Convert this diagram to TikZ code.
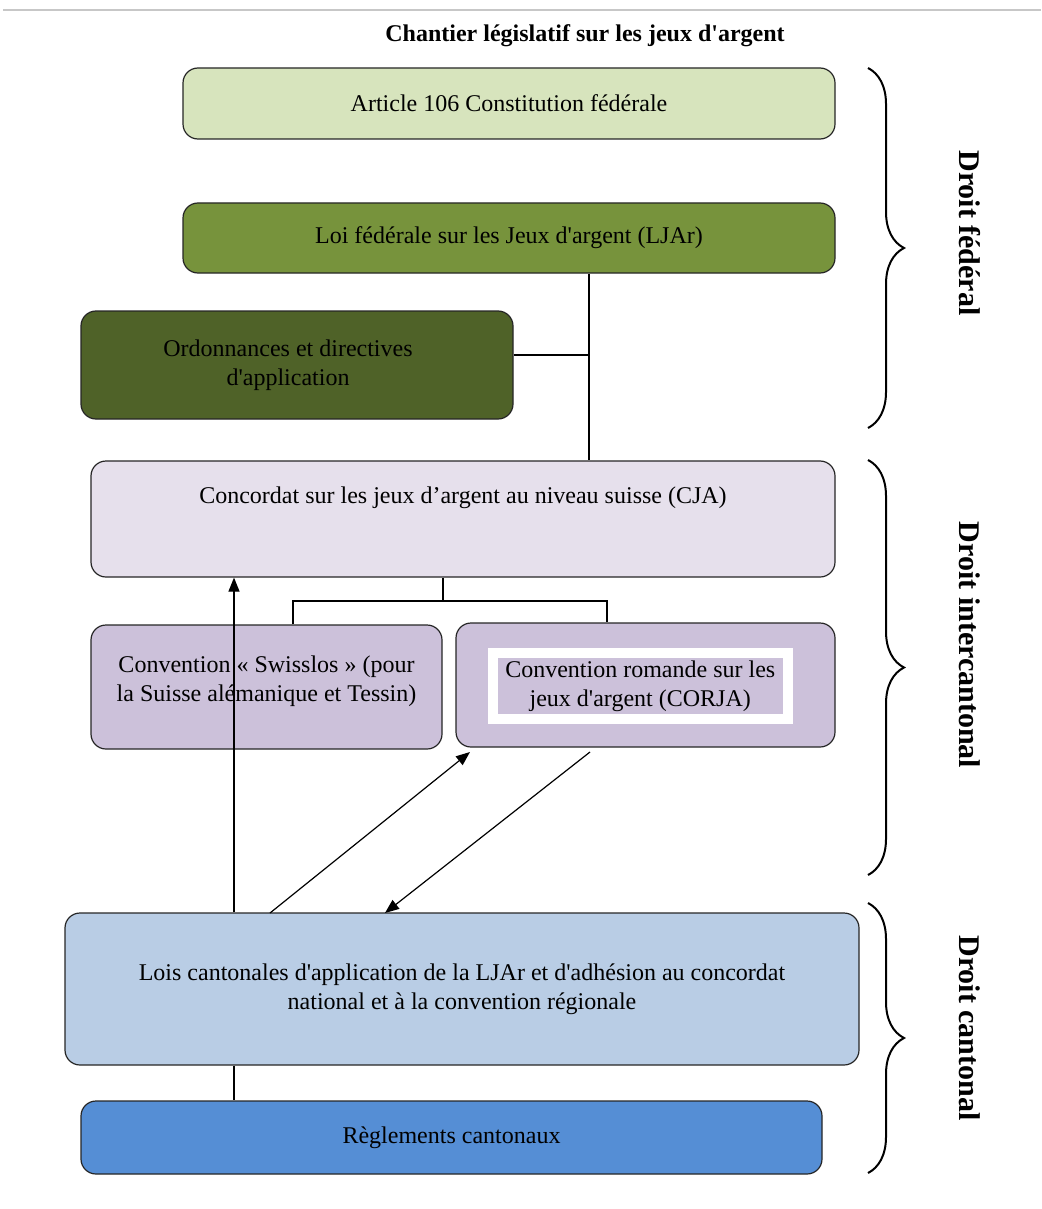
\documentclass[tikz,border=0pt]{standalone}
\usepackage{fontspec}
\setmainfont{Liberation Serif}[Ligatures=TeXOff]
\usetikzlibrary{arrows.meta,decorations.pathreplacing}
\definecolor{artgreen}{HTML}{D7E4BD}
\definecolor{loigreen}{HTML}{77933C}
\definecolor{ordgreen}{HTML}{4F6228}
\definecolor{cjalilac}{HTML}{E6E0EC}
\definecolor{convlilac}{HTML}{CCC1DA}
\definecolor{loisblue}{HTML}{B9CDE5}
\definecolor{reglblue}{HTML}{558ED5}

\begin{document}
\begin{tikzpicture}[
    x=0.5pt, y=-0.5pt,
    font=\fontsize{12}{14.5}\selectfont,
    box/.style={rectangle, rounded corners=7.5pt, draw=black!85, line width=0.6pt, align=center, inner sep=0pt},
    link/.style={draw=black, line width=0.6pt},
    arr/.style={link, -{Triangle[length=7pt,width=5.5pt]}},
    brc/.style={decorate, decoration={brace, amplitude=18pt}, line width=1pt},
    side/.style={rotate=-90, font=\fontsize{15}{18}\selectfont\bfseries}
]
\useasboundingbox (0,0) rectangle (1041,1209);
\draw[black!22, line width=1pt] (3,10) -- (1041,10);
\node[font=\fontsize{12}{14.5}\selectfont\bfseries] (title) at (585,36) {Chantier législatif sur les jeux d'argent};

\node[box, fill=artgreen, minimum width=326pt, minimum height=35.5pt] (art) at (509,103.5) {Article 106 Constitution fédérale};
\node[box, fill=loigreen, minimum width=326pt, minimum height=35pt] (loi) at (509,238) {Loi fédérale sur les Jeux d'argent (LJAr)};
\node[box, fill=ordgreen, minimum width=216pt, minimum height=54pt] (ord) at (297,365) {Ordonnances et directives\hspace*{9pt}\\d'application\hspace*{9pt}};
\node[box, fill=cjalilac, minimum width=372pt, minimum height=58pt] (cja) at (463,519) {Concordat sur les jeux d’argent au niveau suisse (CJA)\\[5pt]\strut};
\node[box, fill=convlilac, minimum width=175.5pt, minimum height=62pt] (swiss) at (266.5,687) {Convention « Swisslos » (pour\\la Suisse alémanique et Tessin)\\[-11pt]\strut};
\node[box, fill=convlilac, minimum width=189.5pt, minimum height=62pt] (corja) at (645.5,685) {};
\node[fill=convlilac, draw=white, line width=5pt, minimum width=147.75pt, minimum height=32.75pt, align=center, inner sep=0pt] (corjatxt) at (640.25,685.75) {Convention romande sur les\\jeux d'argent (CORJA)\\[-12pt]\mbox{}};
\node[box, fill=loisblue, minimum width=397pt, minimum height=76pt] (lois) at (462,989) {Lois cantonales d'application de la LJAr et d'adhésion au concordat\\national et à la convention régionale};
\node[box, fill=reglblue, minimum width=370.5pt, minimum height=36.5pt] (regl) at (451.5,1137.5) {Règlements cantonaux};

\coordinate (j1) at (589,355);
\coordinate (j2) at (443,601);
\coordinate (s1) at (293,601);
\coordinate (s2) at (607,601);
\coordinate (a1) at (234,0);
\coordinate (a2) at (270,913);
\coordinate (a3) at (470,752);
\coordinate (a4) at (590,752);
\coordinate (a5) at (385,913);

\draw[link] (loi.south -| j1) -- (cja.north -| j1);
\draw[link] (ord.east |- j1) -- (j1);
\draw[link] (cja.south -| j2) -- (j2);
\draw[link] (swiss.north -| s1) -- (s1) -- (s2) -- (corja.north -| s2);
\draw[arr] (lois.north -| a1) -- (cja.south -| a1);
\draw[arr] (a2) -- (a3);
\draw[arr] (a4) -- (a5);
\draw[link] (lois.south -| a1) -- (regl.north -| a1);

\draw[brc] (868,68) -- (868,428);
\draw[brc] (868,460) -- (868,875);
\draw[brc] (868,903) -- (868,1173);
\node[side] (fed) at (970,233) {Droit fédéral};
\node[side] (inter) at (970,645) {Droit intercantonal};
\node[side] (cant) at (970,1028) {Droit cantonal};
\end{tikzpicture}
\end{document}
